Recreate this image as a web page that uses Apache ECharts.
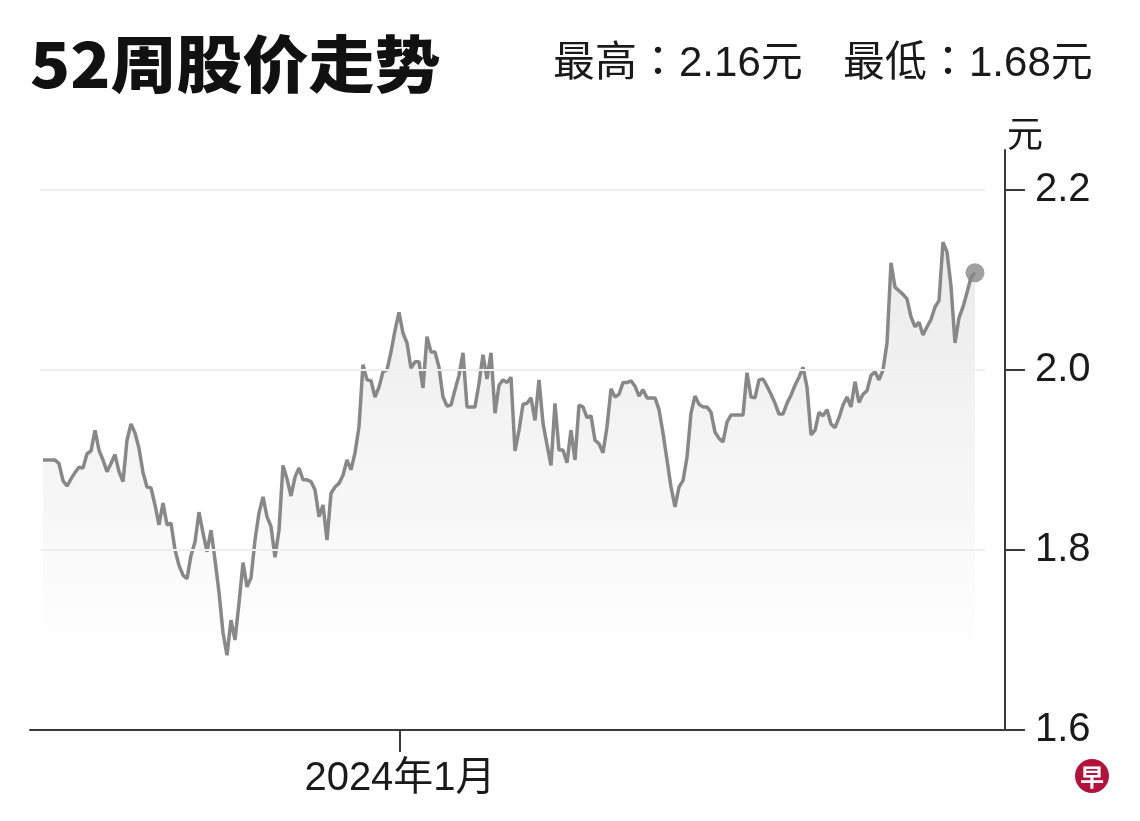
<!DOCTYPE html>
<html>
<head>
<meta charset="utf-8">
<script src="https://cdn.jsdelivr.net/npm/echarts@6/dist/echarts.min.js"></script>
<style>
  html, body { margin: 0; padding: 0; background: #fff; }
  #chart { width: 1140px; height: 821px; }
</style>
</head>
<body>
<div id="chart"></div>
<script>
// ---- data ----
const titleText = '52周股价走势';
const highLabel = '最高：2.16元';
const lowLabel = '最低：1.68元';
const unitLabel = '元';
const yTicks = [1.6, 1.8, 2.0, 2.2];
const gridValues = [1.8, 2.0, 2.2];
const xTickPositions = [89.25];          // trading-day index where January 2024 starts
const xTickLabels = ['2024年1月'];
// daily closing prices over 52 weeks (yuan)
const prices = [
  1.900,1.900,1.900,1.900,1.896,1.877,1.871,1.879,1.886,1.892,
  1.891,1.907,1.910,1.933,1.911,1.900,1.887,1.896,1.906,1.887,
  1.876,1.922,1.940,1.930,1.913,1.886,1.870,1.869,1.850,1.828,
  1.852,1.828,1.830,1.800,1.783,1.772,1.768,1.794,1.809,1.842,
  1.819,1.798,1.822,1.789,1.753,1.708,1.683,1.722,1.700,1.741,
  1.786,1.759,1.769,1.811,1.841,1.859,1.837,1.826,1.792,1.822,
  1.894,1.879,1.860,1.881,1.891,1.878,1.878,1.876,1.867,1.837,
  1.850,1.811,1.863,1.870,1.874,1.883,1.900,1.889,1.908,1.937,
  2.006,1.989,1.988,1.970,1.981,1.998,2.000,2.020,2.044,2.064,
  2.041,2.030,2.002,2.009,2.009,1.980,2.037,2.020,2.020,2.003,
  1.970,1.960,1.961,1.978,1.994,2.019,1.959,1.959,1.959,1.985,
  2.017,1.990,2.019,1.952,1.983,1.989,1.986,1.992,1.910,1.933,
  1.962,1.963,1.969,1.944,1.989,1.941,1.917,1.894,1.963,1.911,
  1.911,1.897,1.933,1.900,1.961,1.959,1.947,1.949,1.922,1.918,
  1.908,1.937,1.979,1.970,1.973,1.986,1.986,1.988,1.982,1.971,
  1.978,1.969,1.969,1.969,1.956,1.930,1.900,1.870,1.848,1.870,
  1.877,1.903,1.952,1.971,1.962,1.959,1.959,1.953,1.931,1.924,
  1.920,1.942,1.950,1.950,1.950,1.950,1.997,1.970,1.969,1.989,
  1.990,1.982,1.973,1.963,1.951,1.951,1.963,1.972,1.983,1.992,
  2.003,1.981,1.928,1.933,1.953,1.949,1.956,1.940,1.936,1.947,
  1.961,1.970,1.959,1.987,1.964,1.973,1.977,1.994,1.998,1.989,
  2.000,2.030,2.119,2.092,2.088,2.084,2.079,2.059,2.048,2.053,
  2.039,2.048,2.056,2.070,2.077,2.142,2.131,2.093,2.030,2.058,
  2.070,2.086,2.103,2.108
];

// ---- chart ----
const chart = echarts.init(document.getElementById('chart'), null, { renderer: 'canvas' });
const lineData = prices.map((v, i) => [i, v]);
const lastIdx = prices.length - 1;
const latinFont = '"Liberation Sans", Arial, "Noto Sans CJK SC", sans-serif';

const option = {
  backgroundColor: '#ffffff',
  animation: false,
  grid: { left: 30, right: 135, top: 150, bottom: 91, containLabel: false },
  xAxis: {
    type: 'value',
    min: -3.25,
    max: 240.5,
    splitLine: { show: false },
    axisLine: { show: true, onZero: false, lineStyle: { color: '#3a3a3a', width: 2 } },
    axisTick: { show: true, customValues: xTickPositions, length: 22, lineStyle: { color: '#3a3a3a', width: 2 } },
    axisLabel: {
      show: true,
      customValues: xTickPositions,
      formatter: (v) => xTickLabels[xTickPositions.indexOf(v)] || '',
      margin: 29,
      color: '#1a1a1a',
      fontSize: 40,
      fontFamily: latinFont
    }
  },
  yAxis: {
    type: 'value',
    position: 'right',
    min: 1.6,
    max: 2.2444,
    interval: 0.2,
    splitLine: { show: false },
    axisLine: { show: true, onZero: false, lineStyle: { color: '#3a3a3a', width: 2 } },
    axisTick: { show: true, customValues: yTicks, length: 20, lineStyle: { color: '#3a3a3a', width: 2 } },
    axisLabel: {
      show: true,
      customValues: yTicks,
      formatter: (v) => v.toFixed(1),
      margin: 30,
      color: '#1a1a1a',
      fontSize: 40,
      fontFamily: latinFont
    }
  },
  series: [
    {
      type: 'line',
      data: lineData,
      showSymbol: false,
      symbol: 'none',
      lineStyle: { color: '#888888', width: 3.5 },
      areaStyle: {
        color: new echarts.graphic.LinearGradient(0, 0, 0, 1, [
          { offset: 0, color: 'rgba(200,200,200,0.55)' },
          { offset: 0.55, color: 'rgba(222,222,222,0.35)' },
          { offset: 1, color: 'rgba(255,255,255,0)' }
        ])
      },
      markLine: {
        silent: true,
        symbol: 'none',
        label: { show: false },
        lineStyle: { color: '#efefef', width: 2, type: 'solid' },
        data: gridValues.map(g => [{ coord: [-0.75, g] }, { coord: [235.5, g] }])
      },
      z: 3
    },
    {
      type: 'scatter',
      data: [[lastIdx, prices[lastIdx]]],
      symbol: 'circle',
      symbolSize: 19,
      itemStyle: { color: '#888888' },
      z: 4
    }
  ],
  graphic: [
    {
      type: 'text',
      x: 30, y: 64,
      scaleX: 1.065,
      style: {
        text: titleText,
        font: '900 62px "Noto Sans CJK SC", sans-serif',
        fill: '#111111',
        align: 'left',
        verticalAlign: 'middle'
      }
    },
    {
      type: 'text',
      x: 553, y: 64,
      style: {
        text: highLabel,
        font: '42px "Liberation Sans", "Noto Sans CJK TC", sans-serif',
        fill: '#1a1a1a',
        align: 'left',
        verticalAlign: 'middle'
      }
    },
    {
      type: 'text',
      x: 843, y: 64,
      style: {
        text: lowLabel,
        font: '42px "Liberation Sans", "Noto Sans CJK TC", sans-serif',
        fill: '#1a1a1a',
        align: 'left',
        verticalAlign: 'middle'
      }
    },
    {
      type: 'text',
      x: 1025, y: 133,
      style: {
        text: unitLabel,
        font: '36px "Noto Sans CJK SC", sans-serif',
        fill: '#1a1a1a',
        align: 'center',
        verticalAlign: 'middle'
      }
    },
    {
      type: 'group',
      x: 1092, y: 776,
      children: [
        { type: 'circle', shape: { cx: 0, cy: 0, r: 17 }, style: { fill: '#b3123c' } },
        {
          type: 'text', x: 0, y: 1,
          style: {
            text: '早',
            font: 'bold 24px "Noto Sans CJK SC", sans-serif',
            fill: '#ffffff',
            align: 'center',
            verticalAlign: 'middle'
          }
        }
      ]
    }
  ]
};
chart.setOption(option);
</script>
</body>
</html>
